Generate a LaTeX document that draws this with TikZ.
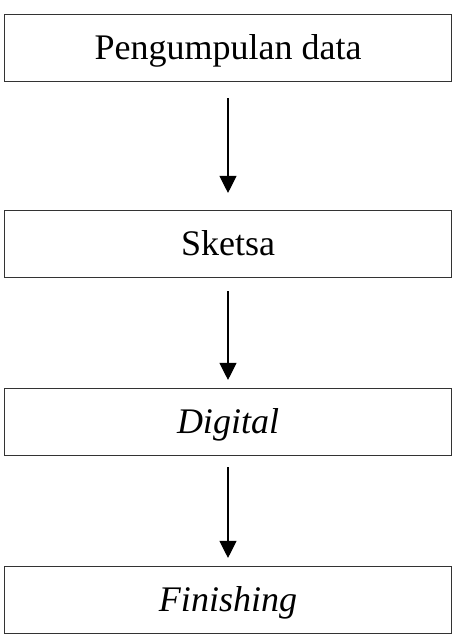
\documentclass[tikz,border=0pt]{standalone}
\usepackage{fontspec}
\setmainfont{Liberation Serif}
\usetikzlibrary{arrows.meta}
\begin{document}
\begin{tikzpicture}[x=1pt,y=-1pt,
  stepbox/.style={draw=black!80, line width=1.1pt, minimum width=447pt, minimum height=67pt, inner sep=0pt, text height=29pt, text depth=6pt, font=\fontsize{36}{40}\selectfont, text=black},
  arr/.style={line width=1.1pt, -{Triangle[width=17pt,length=17pt]}}]
\useasboundingbox (0,0) rectangle (456,639);
\node[stepbox] (b1) at (228,48) {Pengumpulan data};
\node[stepbox] (b2) at (228,244) {Sketsa};
\node[stepbox] (b3) at (228,422) {\textit{Digital}};
\node[stepbox] (b4) at (228,600) {\textit{Finishing}};
\draw[arr, shorten <=16pt, shorten >=17pt] (b1) -- (b2);
\draw[arr, shorten <=13pt, shorten >=8pt] (b2) -- (b3);
\draw[arr, shorten <=11pt, shorten >=8pt] (b3) -- (b4);
\end{tikzpicture}
\end{document}
